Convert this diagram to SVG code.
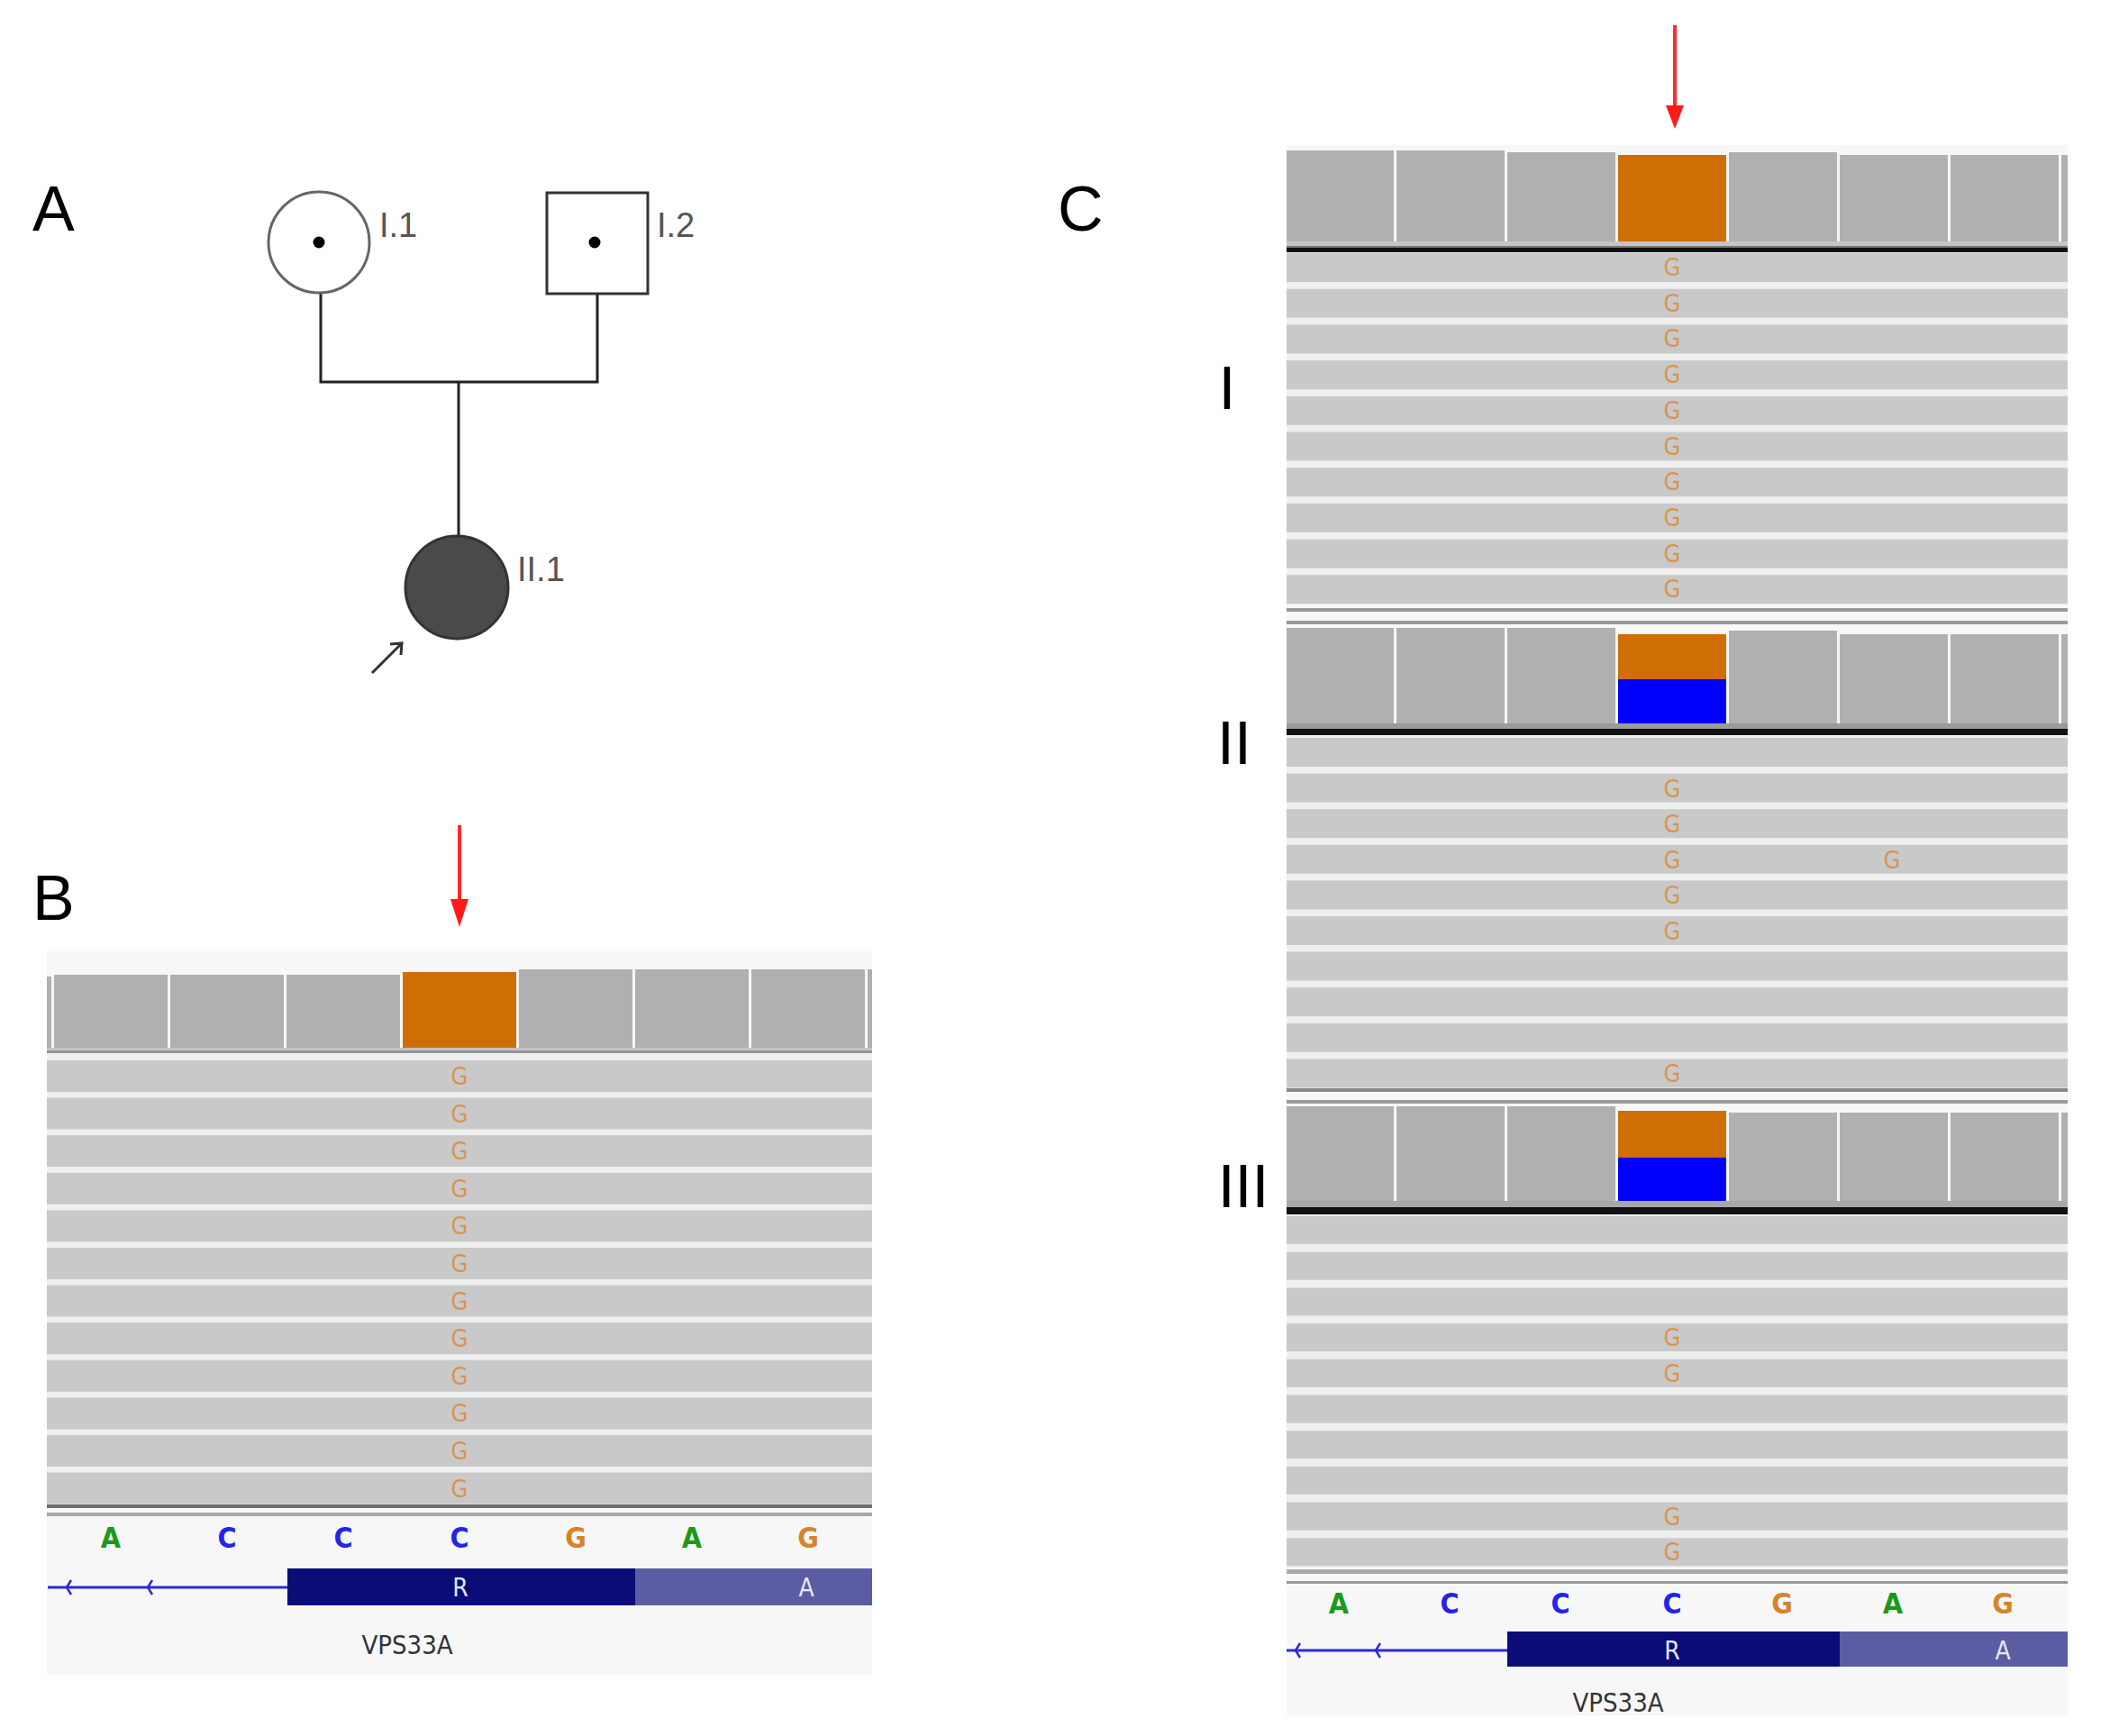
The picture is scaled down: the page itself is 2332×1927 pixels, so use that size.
<svg xmlns="http://www.w3.org/2000/svg" width="2332" height="1927" viewBox="0 0 2332 1927">
<style>
.lbl{font-family:"Liberation Sans",Arial,sans-serif;font-size:70px;fill:#000}
.rom{font-family:"Liberation Sans",Arial,sans-serif;font-size:68px;fill:#000;text-anchor:middle}
.ped{font-family:"Liberation Sans",Arial,sans-serif;font-size:38px;fill:#555}
.bar{fill:#b0b0b0}
.org{fill:#cf6e04}
.blu{fill:#0000ff}
.row{fill:#c9c9c9}
.g{font-family:"Liberation Sans Narrow","DejaVu Sans Condensed","Liberation Sans",sans-serif;font-size:27px;fill:#d8944e;text-anchor:middle}
.sq{font-family:"Liberation Sans Narrow","DejaVu Sans Condensed","Liberation Sans",sans-serif;font-size:32px;font-weight:bold;text-anchor:middle}
.sA{fill:#1a9a1a}.sC{fill:#2323ee}.sG{fill:#d6842c}
.aa{font-family:"Liberation Sans Narrow","DejaVu Sans Condensed","Liberation Sans",sans-serif;font-size:28px;fill:#e8e8f0;text-anchor:middle}
.gene{font-family:"Liberation Sans Narrow","DejaVu Sans Condensed","Liberation Sans",sans-serif;font-size:29px;fill:#333;text-anchor:middle}
.pl{stroke:#222;stroke-width:3;fill:none}
.red{stroke:#ff2a2a;stroke-width:4}
</style>

<!-- Panel labels -->
<text class="lbl" x="36" y="256">A</text>
<text class="lbl" x="36" y="1021">B</text>
<text class="lbl" x="1174" y="256">C</text>

<!-- Pedigree connectors -->
<g id="connectors">
<polyline class="pl" points="356,326 356,424 663,424 663,327"/>
<line class="pl" x1="509" y1="424" x2="509" y2="597"/>
<path d="M413,747 L446,714 M433,715 L446,714 L445,727" stroke="#333" stroke-width="3" fill="none"/>
</g>
<g id="node-I1">
<circle cx="354" cy="269" r="56" fill="#fff" stroke="#666" stroke-width="3"/>
<circle cx="354" cy="269" r="6.5" fill="#000"/>
<text class="ped" x="421" y="263">I.1</text>
</g>
<g id="node-I2">
<rect x="607" y="214" width="112" height="112" fill="#fff" stroke="#333" stroke-width="3"/>
<circle cx="660" cy="269" r="6.5" fill="#000"/>
<text class="ped" x="729" y="263">I.2</text>
</g>
<g id="node-II1">
<circle cx="507" cy="652" r="57" fill="#4a4a4a" stroke="#333" stroke-width="3"/>
<text class="ped" x="574" y="645">II.1</text>
</g>

<!-- Panel B -->
<g id="panel-B">
<line class="red" x1="510" y1="916" x2="510" y2="1000"/>
<polygon points="500,998 520,998 510,1029" fill="#ff1a1a"/>
<rect x="52" y="1056" width="916" height="803" fill="#f7f7f7"/>
<rect x="52" y="1084" width="5" height="79" class="bar"/>
<rect x="60" y="1082" width="126" height="81" class="bar"/>
<rect x="189" y="1082" width="126" height="81" class="bar"/>
<rect x="318" y="1082" width="126" height="81" class="bar"/>
<rect x="447" y="1079" width="126" height="84" class="org"/>
<rect x="576" y="1076" width="126" height="87" class="bar"/>
<rect x="705" y="1076" width="126" height="87" class="bar"/>
<rect x="834" y="1076" width="126" height="87" class="bar"/>
<rect x="963" y="1076" width="5" height="87" class="bar"/>
<rect x="52" y="1163" width="916" height="3" fill="#c4c4c4"/>
<rect x="52" y="1166" width="916" height="3" fill="#969696"/>
<rect x="52" y="1169" width="916" height="500" fill="#efefef"/>
<g>
<rect x="52" y="1177" width="916" height="35" class="row"/>
<rect x="52" y="1218.6" width="916" height="35" class="row"/>
<rect x="52" y="1260.2" width="916" height="35" class="row"/>
<rect x="52" y="1301.8" width="916" height="35" class="row"/>
<rect x="52" y="1343.4" width="916" height="35" class="row"/>
<rect x="52" y="1385" width="916" height="35" class="row"/>
<rect x="52" y="1426.6" width="916" height="35" class="row"/>
<rect x="52" y="1468.2" width="916" height="35" class="row"/>
<rect x="52" y="1509.8" width="916" height="35" class="row"/>
<rect x="52" y="1551.4" width="916" height="35" class="row"/>
<rect x="52" y="1593" width="916" height="35" class="row"/>
<rect x="52" y="1634.6" width="916" height="35" class="row"/>
</g>
<g>
<text class="g" x="510" y="1204">G</text>
<text class="g" x="510" y="1245.6">G</text>
<text class="g" x="510" y="1287.2">G</text>
<text class="g" x="510" y="1328.8">G</text>
<text class="g" x="510" y="1370.4">G</text>
<text class="g" x="510" y="1412">G</text>
<text class="g" x="510" y="1453.6">G</text>
<text class="g" x="510" y="1495.2">G</text>
<text class="g" x="510" y="1536.8">G</text>
<text class="g" x="510" y="1578.4">G</text>
<text class="g" x="510" y="1620">G</text>
<text class="g" x="510" y="1661.6">G</text>
</g>
<rect x="52" y="1670" width="916" height="4" fill="#6e6e6e"/>
<rect x="52" y="1679" width="916" height="4" fill="#a8a8a8"/>
<text class="sq sA" x="123" y="1718">A</text>
<text class="sq sC" x="252" y="1718">C</text>
<text class="sq sC" x="381" y="1718">C</text>
<text class="sq sC" x="510" y="1718">C</text>
<text class="sq sG" x="639" y="1718">G</text>
<text class="sq sA" x="768" y="1718">A</text>
<text class="sq sG" x="897" y="1718">G</text>
<line x1="53" y1="1762" x2="320" y2="1762" stroke="#2b2bd6" stroke-width="3"/>
<path d="M79,1754 L74,1762 L79,1770 M169,1754 L164,1762 L169,1770" stroke="#2b2bd6" stroke-width="2.5" fill="none"/>
<rect x="319" y="1741" width="386" height="41" fill="#0c0c78"/>
<rect x="705" y="1741" width="263" height="41" fill="#5c5ca3"/>
<text class="aa" x="511" y="1772">R</text>
<text class="aa" x="895" y="1772">A</text>
<text class="gene" x="452" y="1836">VPS33A</text>
</g>

<!-- Panel C -->
<g id="panel-C">
<line class="red" x1="1859" y1="28" x2="1859" y2="120"/>
<polygon points="1849,117 1869,117 1859,143" fill="#ff1a1a"/>
<rect x="1428" y="161" width="867" height="1743" fill="#f7f7f7"/>
<text class="rom" x="1362" y="454">I</text>
<text class="rom" x="1370" y="848">II</text>
<text class="rom" x="1380" y="1340">III</text>

<!-- Section I -->
<rect x="1428" y="167" width="119" height="101" class="bar"/>
<rect x="1550" y="167" width="120" height="101" class="bar"/>
<rect x="1673" y="169" width="120" height="99" class="bar"/>
<rect x="1796" y="172" width="120" height="96" class="org"/>
<rect x="1919" y="169" width="120" height="99" class="bar"/>
<rect x="2042" y="172" width="120" height="96" class="bar"/>
<rect x="2165" y="172" width="120" height="96" class="bar"/>
<rect x="2288" y="172" width="7" height="96" class="bar"/>
<rect x="1428" y="268" width="867" height="5" fill="#c4c4c4"/>
<rect x="1428" y="273" width="867" height="2" fill="#777"/>
<rect x="1428" y="275" width="867" height="5" fill="#111"/>
<rect x="1428" y="280" width="867" height="390" fill="#efefef"/>
<g>
<rect x="1428" y="281" width="867" height="32" class="row"/>
<rect x="1428" y="320.7" width="867" height="32" class="row"/>
<rect x="1428" y="360.4" width="867" height="32" class="row"/>
<rect x="1428" y="400.1" width="867" height="32" class="row"/>
<rect x="1428" y="439.8" width="867" height="32" class="row"/>
<rect x="1428" y="479.5" width="867" height="32" class="row"/>
<rect x="1428" y="519.2" width="867" height="32" class="row"/>
<rect x="1428" y="558.9" width="867" height="32" class="row"/>
<rect x="1428" y="598.6" width="867" height="32" class="row"/>
<rect x="1428" y="638.3" width="867" height="32" class="row"/>
</g>
<g>
<text class="g" x="1856" y="306">G</text>
<text class="g" x="1856" y="345.7">G</text>
<text class="g" x="1856" y="385.4">G</text>
<text class="g" x="1856" y="425.1">G</text>
<text class="g" x="1856" y="464.8">G</text>
<text class="g" x="1856" y="504.5">G</text>
<text class="g" x="1856" y="544.2">G</text>
<text class="g" x="1856" y="583.9">G</text>
<text class="g" x="1856" y="623.6">G</text>
<text class="g" x="1856" y="663.3">G</text>
</g>
<rect x="1428" y="675" width="867" height="4" fill="#999"/>
<rect x="1428" y="689" width="867" height="4" fill="#999"/>

<!-- Section II -->
<rect x="1428" y="697" width="119" height="106" class="bar"/>
<rect x="1550" y="697" width="120" height="106" class="bar"/>
<rect x="1673" y="697" width="120" height="106" class="bar"/>
<rect x="1796" y="704" width="120" height="50" class="org"/>
<rect x="1796" y="754" width="120" height="49" class="blu"/>
<rect x="1919" y="700" width="120" height="103" class="bar"/>
<rect x="2042" y="704" width="120" height="99" class="bar"/>
<rect x="2165" y="704" width="120" height="99" class="bar"/>
<rect x="2288" y="704" width="7" height="99" class="bar"/>
<rect x="1428" y="803" width="867" height="6" fill="#9a9a9a"/>
<rect x="1428" y="809" width="867" height="7" fill="#111"/>
<rect x="1428" y="816" width="867" height="392" fill="#efefef"/>
<g>
<rect x="1428" y="819" width="867" height="32" class="row"/>
<rect x="1428" y="858.6" width="867" height="32" class="row"/>
<rect x="1428" y="898.2" width="867" height="32" class="row"/>
<rect x="1428" y="937.8" width="867" height="32" class="row"/>
<rect x="1428" y="977.4" width="867" height="32" class="row"/>
<rect x="1428" y="1017" width="867" height="32" class="row"/>
<rect x="1428" y="1056.6" width="867" height="32" class="row"/>
<rect x="1428" y="1096.2" width="867" height="32" class="row"/>
<rect x="1428" y="1135.8" width="867" height="32" class="row"/>
<rect x="1428" y="1175.4" width="867" height="32" class="row"/>
</g>
<g>
<text class="g" x="1856" y="884.6">G</text>
<text class="g" x="1856" y="924.2">G</text>
<text class="g" x="1856" y="963.8">G</text>
<text class="g" x="2100" y="963.8">G</text>
<text class="g" x="1856" y="1003.4">G</text>
<text class="g" x="1856" y="1043">G</text>
<text class="g" x="1856" y="1201.4">G</text>
</g>
<rect x="1428" y="1208" width="867" height="4" fill="#888"/>
<rect x="1428" y="1221" width="867" height="4" fill="#9c9c9c"/>

<!-- Section III -->
<rect x="1428" y="1228" width="119" height="105" class="bar"/>
<rect x="1550" y="1228" width="120" height="105" class="bar"/>
<rect x="1673" y="1228" width="120" height="105" class="bar"/>
<rect x="1796" y="1233" width="120" height="52" class="org"/>
<rect x="1796" y="1285" width="120" height="48" class="blu"/>
<rect x="1919" y="1235" width="120" height="98" class="bar"/>
<rect x="2042" y="1235" width="120" height="98" class="bar"/>
<rect x="2165" y="1235" width="120" height="98" class="bar"/>
<rect x="2288" y="1235" width="7" height="98" class="bar"/>
<rect x="1428" y="1333" width="867" height="7" fill="#a8a8a8"/>
<rect x="1428" y="1340" width="867" height="8" fill="#111"/>
<rect x="1428" y="1348" width="867" height="392" fill="#efefef"/>
<g>
<rect x="1428" y="1350" width="867" height="31" class="row"/>
<rect x="1428" y="1389.7" width="867" height="31" class="row"/>
<rect x="1428" y="1429.4" width="867" height="31" class="row"/>
<rect x="1428" y="1469.1" width="867" height="31" class="row"/>
<rect x="1428" y="1508.8" width="867" height="31" class="row"/>
<rect x="1428" y="1548.5" width="867" height="31" class="row"/>
<rect x="1428" y="1588.2" width="867" height="31" class="row"/>
<rect x="1428" y="1627.9" width="867" height="31" class="row"/>
<rect x="1428" y="1667.6" width="867" height="31" class="row"/>
<rect x="1428" y="1707.3" width="867" height="31" class="row"/>
</g>
<g>
<text class="g" x="1856" y="1494.1">G</text>
<text class="g" x="1856" y="1533.8">G</text>
<text class="g" x="1856" y="1692.6">G</text>
<text class="g" x="1856" y="1732.3">G</text>
</g>
<rect x="1428" y="1742" width="867" height="5" fill="#aaa"/>
<rect x="1428" y="1755" width="867" height="3" fill="#999"/>
<text class="sq sA" x="1486" y="1791">A</text>
<text class="sq sC" x="1609" y="1791">C</text>
<text class="sq sC" x="1732" y="1791">C</text>
<text class="sq sC" x="1856" y="1791">C</text>
<text class="sq sG" x="1978" y="1791">G</text>
<text class="sq sA" x="2101" y="1791">A</text>
<text class="sq sG" x="2223" y="1791">G</text>
<line x1="1428" y1="1832" x2="1674" y2="1832" stroke="#2b2bd6" stroke-width="3"/>
<path d="M1443,1824 L1438,1832 L1443,1840 M1532,1824 L1527,1832 L1532,1840" stroke="#2b2bd6" stroke-width="2.5" fill="none"/>
<rect x="1673" y="1811" width="369" height="39" fill="#0c0c78"/>
<rect x="2042" y="1811" width="253" height="39" fill="#5c5ca3"/>
<text class="aa" x="1856" y="1842">R</text>
<text class="aa" x="2223" y="1842">A</text>
<text class="gene" x="1796" y="1900">VPS33A</text>
</g>
</svg>
